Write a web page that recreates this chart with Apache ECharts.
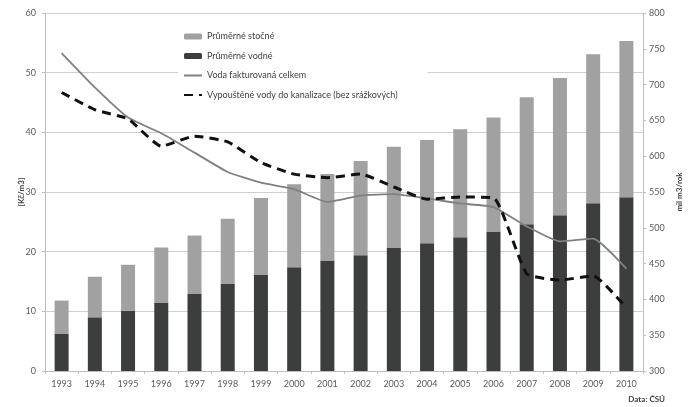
<!DOCTYPE html>
<html>
<head>
<meta charset="utf-8">
<script src="https://cdn.jsdelivr.net/npm/echarts@6/dist/echarts.min.js"></script>
<style>
  html, body { margin: 0; padding: 0; background: #ffffff; }
  #chart { width: 691px; height: 407px; }
</style>
</head>
<body>
<div id="chart"></div>
<script>
// Years on the category axis
const years = ['1993','1994','1995','1996','1997','1998','1999','2000','2001',
  '2002','2003','2004','2005','2006','2007','2008','2009','2010'];

// Average water price (Kč/m3)
const vodne = [6.2, 9.0, 10.1, 11.5, 12.9, 14.6, 16.1, 17.4, 18.5,
  19.4, 20.7, 21.4, 22.4, 23.4, 24.6, 26.1, 28.1, 29.1];
// Average sewage price (Kč/m3), stacked on top of water price
const stocne = [5.6, 6.8, 7.7, 9.2, 9.8, 10.9, 12.9, 13.9, 14.5,
  15.8, 16.9, 17.3, 18.1, 19.1, 21.3, 23.0, 25.0, 26.2];

// Volumes in mil. m3 per year (right axis)
const fakturovana = [744, 696, 654, 632, 605, 578, 563, 554, 536,
  545, 547, 541, 534, 529, 502, 481, 485, 443];
const vypoustene = [689, 665, 652, 614, 628, 620, 591, 575, 570,
  575, 557, 540, 543, 542, 436, 427, 433, 388];

// Tick ranges
const leftAxis = { min: 0, max: 60, step: 10 };
const rightAxis = { min: 300, max: 800, step: 50 };

const font = 'Lato, "Open Sans", sans-serif';
const textGray = '#595959';
const axisGray = '#bfbfbf';

const chart = echarts.init(document.getElementById('chart'), null, { renderer: 'canvas' });

chart.setOption({
  animation: false,
  backgroundColor: '#ffffff',
  textStyle: { fontFamily: font },
  grid: { left: 45, right: 40, top: 13, bottom: 36, containLabel: false },
  legend: {
    orient: 'vertical',
    left: 178,
    top: 28,
    backgroundColor: '#ffffff',
    padding: [4, 30, 4, 5],
    itemWidth: 18,
    itemHeight: 6,
    itemGap: 10.5,
    textStyle: { fontFamily: font, fontSize: 9, color: '#404040' },
    data: [
      { name: 'Průměrné stočné' },
      { name: 'Průměrné vodné' },
      { name: 'Voda fakturovaná celkem', itemStyle: { opacity: 0 } },
      { name: 'Vypouštěné vody do kanalizace (bez srážkových)', itemStyle: { opacity: 0 } }
    ]
  },
  xAxis: {
    type: 'category',
    data: years,
    boundaryGap: true,
    axisLine: { lineStyle: { color: axisGray } },
    axisTick: { show: true, alignWithLabel: false, length: 3, lineStyle: { color: axisGray } },
    axisLabel: { color: textGray, fontSize: 9, margin: 9, interval: 0 },
    splitLine: { show: false }
  },
  yAxis: [
    {
      type: 'value',
      min: leftAxis.min, max: leftAxis.max, interval: leftAxis.step,
      name: '[Kč/m3]',
      nameLocation: 'middle',
      nameRotate: 90,
      nameGap: 20,
      nameMoveOverlap: false,
      nameTextStyle: { fontSize: 8, fontWeight: 'bold', color: '#404040' },
      axisLine: { show: true, lineStyle: { color: axisGray } },
      axisTick: { show: true, length: 3, lineStyle: { color: axisGray } },
      axisLabel: { color: textGray, fontSize: 9, margin: 9 },
      splitLine: { show: true, lineStyle: { color: '#cfcfcf', width: 1 } }
    },
    {
      type: 'value',
      position: 'right',
      min: rightAxis.min, max: rightAxis.max, interval: rightAxis.step,
      name: 'mil m3/rok',
      nameLocation: 'middle',
      nameRotate: 90,
      nameGap: 32,
      nameMoveOverlap: false,
      nameTextStyle: { fontSize: 8, fontWeight: 'bold', color: '#404040' },
      axisLine: { show: true, lineStyle: { color: axisGray } },
      axisTick: { show: true, length: 3, lineStyle: { color: axisGray } },
      axisLabel: { color: textGray, fontSize: 9, margin: 6 },
      splitLine: { show: false }
    }
  ],
  series: [
    {
      name: 'Průměrné vodné',
      type: 'bar',
      stack: 'cena',
      yAxisIndex: 0,
      barWidth: 14,
      itemStyle: { color: '#3b3e3d' },
      data: vodne
    },
    {
      name: 'Průměrné stočné',
      type: 'bar',
      stack: 'cena',
      yAxisIndex: 0,
      barWidth: 14,
      itemStyle: { color: '#a0a1a0' },
      data: stocne
    },
    {
      name: 'Voda fakturovaná celkem',
      type: 'line',
      yAxisIndex: 1,
      symbol: 'none',
      smooth: 0.15,
      itemStyle: { color: '#808080' },
      lineStyle: { color: '#808080', width: 1.8 },
      data: fakturovana
    },
    {
      name: 'Vypouštěné vody do kanalizace (bez srážkových)',
      type: 'line',
      yAxisIndex: 1,
      symbol: 'none',
      smooth: 0.15,
      itemStyle: { color: '#111111' },
      lineStyle: { color: '#111111', width: 3, type: [9, 6] },
      data: vypoustene
    }
  ],
  graphic: [
    {
      type: 'text',
      right: 26,
      top: 395,
      style: {
        text: 'Data: ČSÚ',
        fontFamily: font,
        fontSize: 8,
        fontWeight: 'bold',
        fill: '#404040'
      }
    }
  ]
});
</script>
</body>
</html>
